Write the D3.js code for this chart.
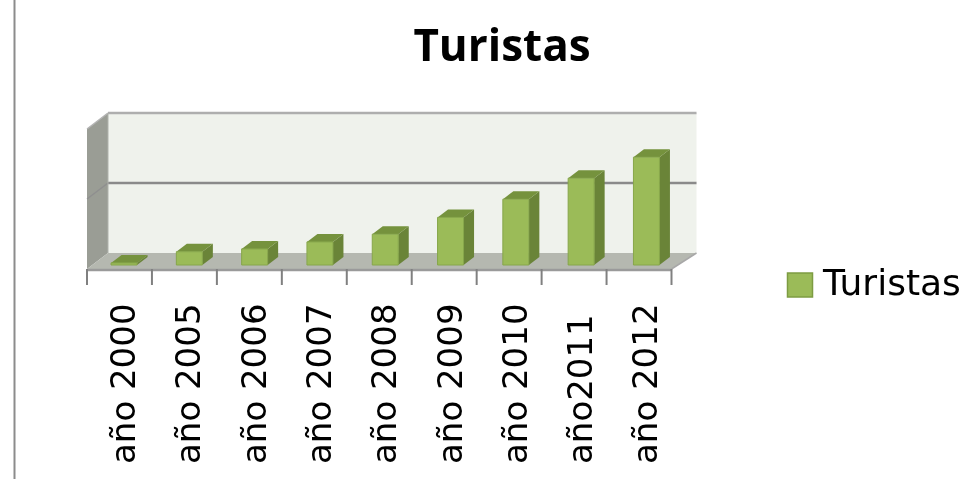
<!DOCTYPE html>
<html><head><meta charset="utf-8">
<script src="https://cdn.jsdelivr.net/npm/d3@7"></script>
<style>html,body{margin:0;background:#fff}svg{display:block}text{font-family:"DejaVu Sans",sans-serif;fill:#000}</style>
</head><body><svg id="c" width="972" height="479"></svg>
<script>
const categories=["año 2000","año 2005","año 2006","año 2007","año 2008","año 2009","año 2010","año2011","año 2012"];
const turistas=[1.5,9.5,11.5,16.5,22,34,47,62,77];
const gridValues=[0,50,100];
const chartTitle="Turistas";
const dx=21,dy=16; // 3-D wall offset
const svg=d3.select("#c");
const defs=svg.append("defs");
defs.append("filter").attr("id","soft").attr("x","-5%").attr("y","-5%").attr("width","110%").attr("height","110%")
 .append("feGaussianBlur").attr("stdDeviation",0.6);
const g=svg.append("g").attr("filter","url(#soft)");
const x=d3.scaleBand().domain(categories).range([87,671.5]);
const barX=d3.scaleBand().domain(categories).range([91.4,679.1]);
const y=d3.scaleLinear().domain([0,100]).range([269,129]);
const barY=d3.scaleLinear().domain([0,100]).range([265,125]);
const poly=(p,f,s)=>g.append("polygon").attr("points",p.map(d=>d.join(",")).join(" ")).attr("fill",f).attr("stroke",s||"none");
const x0=x.range()[0],x1=x.range()[1],y0=y(0),yt=y(100);
g.append("line").attr("x1",14.5).attr("x2",14.5).attr("y1",0).attr("y2",479).attr("stroke","#8c8c8c").attr("stroke-width",2);
// back wall, side wall, floor
poly([[x0+dx,yt-dy],[x1+25,yt-dy],[x1+25,y0-dy],[x0+dx,y0-dy]],"#eff2ec");
poly([[x0,yt],[x0+dx,yt-dy],[x0+dx,y0-dy],[x0,y0]],"#9a9d95");
poly([[x0,y0],[x0+dx,y0-dy],[x1+25,y0-dy],[x1,y0]],"#b5b8b0");
// gridlines
gridValues.slice(1).forEach(v=>{
  g.append("line").attr("x1",x0+dx).attr("x2",x1+25).attr("y1",y(v)-dy).attr("y2",y(v)-dy).attr("stroke",v==100?"#aeaeae":"#8a8a8a").attr("stroke-width",2.5);
  g.append("line").attr("x1",x0).attr("x2",x0+dx).attr("y1",y(v)).attr("y2",y(v)-dy).attr("stroke",v==100?"#b4b4b4":"#8f8f8f").attr("stroke-width",1.5);
});
g.append("line").attr("x1",x0+dx).attr("x2",x0+dx).attr("y1",yt-dy).attr("y2",y0-dy).attr("stroke","#b0b2ac").attr("stroke-width",1);
// axis line and ticks
g.append("path").attr("d",`M${x1},${y0}L${x1+25},${y0-dy}`).attr("stroke","#a8a8a8").attr("fill","none").attr("stroke-width",1.5);
g.append("line").attr("x1",x0).attr("x2",x1).attr("y1",y0+1).attr("y2",y0+1).attr("stroke","#9a9a9a").attr("stroke-width",2.5);
[...categories.map(c=>x(c)),x1].forEach(t=>g.append("line").attr("x1",t).attr("x2",t).attr("y1",y0).attr("y2",y0+16).attr("stroke","#808080").attr("stroke-width",2));
// bars
const w=26,bd=10.5,bh=8;
categories.forEach((c,i)=>{
  const l=barX(c)+(barX.bandwidth()-w)/2,r=l+w,b=barY(0),t=barY(turistas[i]);
  poly([[r,t],[r+bd,t-bh],[r+bd,b-bh],[r,b]],"#6a8439");
  poly([[l,t],[l+bd,t-bh],[r+bd,t-bh],[r,t]],"#75923c");
  poly([[l,t],[r,t],[r,b],[l,b]],"#9bbb59","#86a64a");
  g.append("text").attr("transform",`translate(${l+24},464) rotate(-90)`).attr("font-size",34).text(c);
});
g.append("text").attr("x",502).attr("y",61).attr("text-anchor","middle").style("font-family","'Open Sans',sans-serif").attr("font-size",44).attr("font-weight",700).text(chartTitle);
g.append("rect").attr("x",787.5).attr("y",273).attr("width",25).attr("height",24).attr("fill","#9bbb59").attr("stroke","#7d9c42").attr("stroke-width",1.5);
g.append("text").attr("x",823).attr("y",295).attr("font-size",36).text(chartTitle);
</script></body></html>
